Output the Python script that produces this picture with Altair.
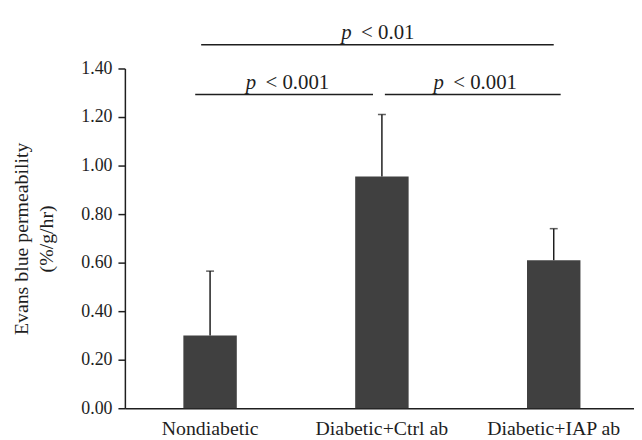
import altair as alt
import pandas as pd

groups = ["Nondiabetic", "Diabetic+Ctrl ab", "Diabetic+IAP ab"]
means = [0.30, 0.955, 0.61]
err_tops = [0.565, 1.21, 0.74]
y_ticks = [0.0, 0.2, 0.4, 0.6, 0.8, 1.0, 1.2, 1.4]

# significance brackets
sig_from = ["Nondiabetic", "Diabetic+Ctrl ab", "Nondiabetic"]
sig_to = ["Diabetic+Ctrl ab", "Diabetic+IAP ab", "Diabetic+IAP ab"]
sig_level = [1.293, 1.293, 1.498]
sig_anchor = ["Nondiabetic", "Diabetic+Ctrl ab", "Diabetic+Ctrl ab"]
sig_text = ["< 0.001", "< 0.001", "< 0.01"]

FONT = "Liberation Serif"
INK = "#1e1e1e"

bars = pd.DataFrame({"group": groups, "mean": means, "top": err_tops})

xscale = alt.Scale(domain=groups, paddingInner=0.689, paddingOuter=0.326, align=0.522)
yscale = alt.Scale(domain=[0, 1.4], nice=False)

XAX = alt.Axis(labelAngle=0, ticks=False, labelPadding=11, title=None,
               labelFont=FONT, labelFontSize=20, labelColor=INK,
               domainColor=INK, domainWidth=1.5)
YAX = alt.Axis(values=y_ticks, format=".2f", grid=False,
               title=["Evans blue permeability", "(%/g/hr)"],
               titleFont=FONT, titleFontSize=20, titleFontWeight="normal",
               titleColor=INK, titleLineHeight=25, titleX=-94, titleY=171.5,
               labelFont=FONT, labelFontSize=18, labelColor=INK,
               tickSize=7, tickWidth=1.5, tickColor=INK, labelPadding=6,
               domainColor=INK, domainWidth=1.5)


def xenc(field):
    return alt.X(f"{field}:N", sort=groups, scale=xscale, axis=XAX, title=None)


def yenc(field):
    return alt.Y(f"{field}:Q", scale=yscale, axis=YAX,
                 title=["Evans blue permeability", "(%/g/hr)"])


bar_layer = alt.Chart(bars).mark_bar(color="#404040").encode(
    x=xenc("group"), y=yenc("mean"),
)

err_rule = alt.Chart(bars).mark_rule(color=INK, strokeWidth=1.5).encode(
    x=xenc("group"), y=yenc("mean"), y2="top:Q",
)

err_cap = alt.Chart(bars).mark_tick(color=INK, thickness=1.5, size=8, orient="horizontal").encode(
    x=xenc("group"), y=yenc("top"),
)

sig = pd.DataFrame({"a": sig_from, "b": sig_to, "lvl": sig_level,
                    "anchor": sig_anchor, "txt": sig_text})

rule_offsets = [(-15, -9), (3, 7), (-9, 0)]
text_offsets = [(36, 56), (52, 72), (-41, -21)]

layers = [bar_layer, err_rule, err_cap]
for i in range(3):
    row = sig.iloc[[i]]
    xo, x2o = rule_offsets[i]
    layers.append(
        alt.Chart(row).mark_rule(color=INK, strokeWidth=1.5, xOffset=xo, x2Offset=x2o).encode(
            x=xenc("a"), x2="b:N", y=yenc("lvl"),
        )
    )
    dp, dt = text_offsets[i]
    layers.append(
        alt.Chart(row).mark_text(text="p", font=FONT, fontSize=21, fontStyle="italic",
                                 color=INK, align="left", baseline="alphabetic",
                                 dx=dp, dy=-6).encode(
            x=xenc("anchor"), y=yenc("lvl"),
        )
    )
    layers.append(
        alt.Chart(row).mark_text(font=FONT, fontSize=21, color=INK, align="left",
                                 baseline="alphabetic", dx=dt, dy=-6).encode(
            x=xenc("anchor"), y=yenc("lvl"), text="txt:N",
        )
    )

chart = alt.layer(*layers).properties(
    width=514, height=343,
    background="white",
    autosize=alt.AutoSizeParams(type="none"),
    padding={"left": 118, "top": 59, "right": 0, "bottom": 30},
).configure_view(stroke=None)

chart.save("out.html", embed_options={"renderer": "svg", "actions": False})
